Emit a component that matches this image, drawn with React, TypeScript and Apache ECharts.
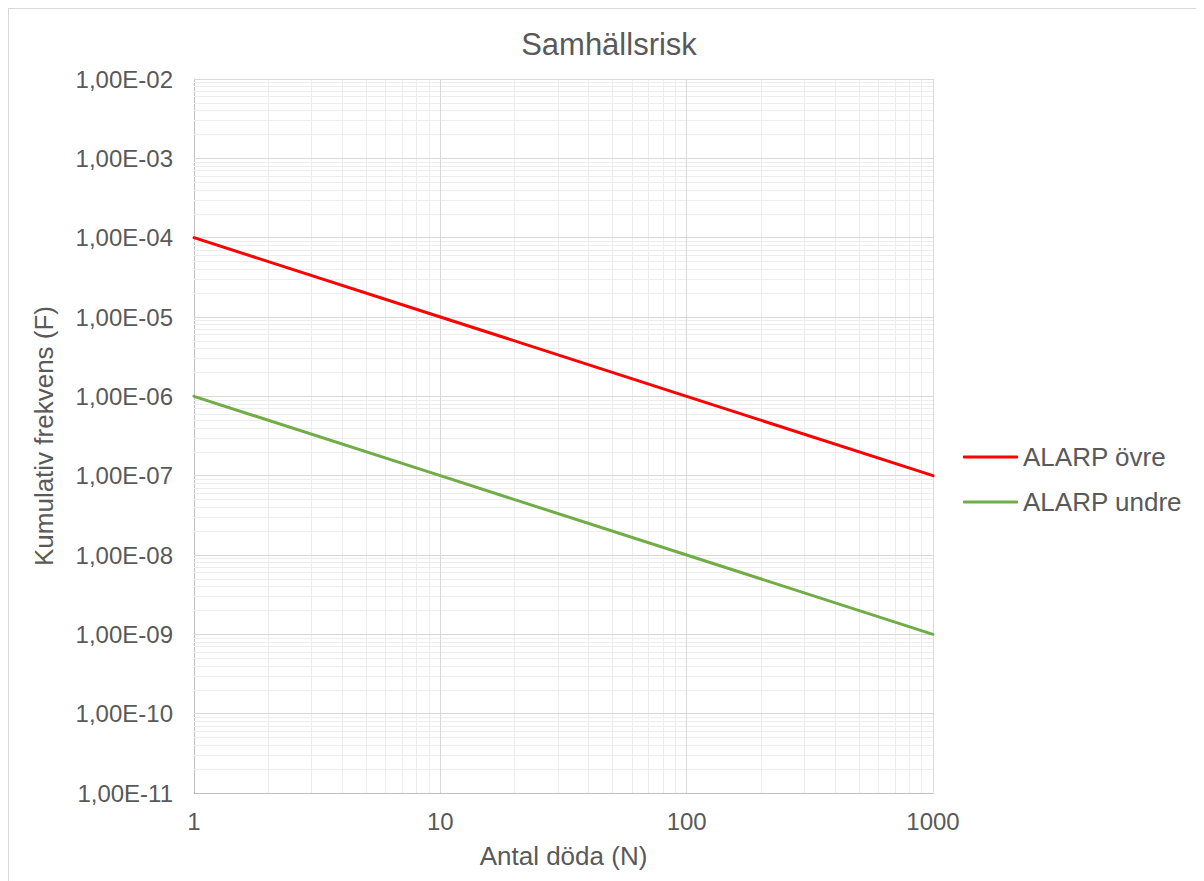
import React, { useEffect, useRef } from "react";
import * as echarts from "echarts";

const title = "Samhällsrisk";
const xAxisName = "Antal döda (N)";
const yAxisName = "Kumulativ frekvens (F)";
const seriesNames = ["ALARP övre", "ALARP undre"];
const xValues = [1, 10, 100, 1000];
const upperValues = [1e-4, 1e-5, 1e-6, 1e-7];
const lowerValues = [1e-6, 1e-7, 1e-8, 1e-9];
const xDecades = [0, 1, 2]; // 10^0 .. 10^3
const yDecades = [-11, -10, -9, -8, -7, -6, -5, -4, -3]; // 10^-11 .. 10^-2
const seriesColors = ["#ff0000", "#70ad47"];

const textColor = "#595959";
const font = "'Liberation Sans', Arial, sans-serif";

function fmtY(v: number): string {
  const e = Math.round(Math.log10(v));
  const a = Math.abs(e);
  return "1,00E" + (e < 0 ? "-" : "+") + (a < 10 ? "0" + a : String(a));
}

export default function App() {
  const ref = useRef<HTMLDivElement>(null);
  useEffect(() => {
    if (!ref.current) return;
    const chart = echarts.init(ref.current, undefined, { renderer: "svg" });

    const minor: any[] = [];
    const major: any[] = [];
    xDecades.forEach((d) => {
      for (let m = 2; m <= 9; m++) minor.push({ xAxis: m * Math.pow(10, d) });
      major.push({ xAxis: Math.pow(10, d + 1) });
    });
    yDecades.forEach((d) => {
      for (let m = 2; m <= 9; m++) minor.push({ yAxis: m * Math.pow(10, d) });
      major.push({ yAxis: Math.pow(10, d + 1) });
    });
    const minorStyle = { color: "#ededed", width: 1, type: "solid" };
    const majorStyle = { color: "#d9d9d9", width: 1, type: "solid" };
    const gridLines = [
      ...minor.map((m) => ({ ...m, lineStyle: minorStyle })),
      ...major.map((m) => ({ ...m, lineStyle: majorStyle })),
    ];

    chart.setOption({
      animation: false,
      backgroundColor: "#ffffff",
      title: {
        text: title,
        left: 600,
        top: 20,
        textAlign: "center",
        padding: 0,
        textStyle: { color: textColor, fontSize: 31, fontWeight: "normal", fontFamily: font },
      },
      legend: {
        orient: "vertical",
        left: 949,
        top: 428,
        itemGap: 15,
        itemWidth: 55,
        itemHeight: 3,
        icon: "roundRect",
        data: seriesNames,
        textStyle: { color: textColor, fontSize: 26, fontFamily: font, lineHeight: 30 },
      },
      grid: { left: 185, top: 70, width: 739, height: 714, containLabel: false },
      xAxis: {
        type: "log",
        logBase: 10,
        min: 1,
        max: 1000,
        name: xAxisName,
        nameLocation: "middle",
        nameGap: 50,
        nameTextStyle: { color: textColor, fontSize: 26, fontFamily: font },
        axisLine: { show: true, lineStyle: { color: "#bfbfbf", width: 1 } },
        axisTick: { show: false },
        splitLine: { show: false },
        axisLabel: {
          color: textColor,
          fontSize: 24,
          fontFamily: font,
          margin: 16,
          formatter: (v: number) => String(Math.round(v)),
        },
      },
      yAxis: {
        type: "log",
        logBase: 10,
        min: 1e-11,
        max: 1e-2,
        splitNumber: 9,
        name: yAxisName,
        nameLocation: "middle",
        nameGap: 137,
        nameRotate: 90,
        nameTextStyle: { color: textColor, fontSize: 26, fontFamily: font },
        axisLine: { show: true, lineStyle: { color: "#bfbfbf", width: 1 } },
        axisTick: { show: false },
        splitLine: { show: false },
        axisLabel: {
          color: textColor,
          fontSize: 24,
          fontFamily: font,
          margin: 21,
          formatter: (v: number) => fmtY(v),
        },
      },
      series: [
        {
          name: "__grid",
          type: "line",
          data: [],
          silent: true,
          z: 1,
          markLine: {
            silent: true,
            symbol: ["none", "none"],
            precision: 20,
            label: { show: false },
            z: 1,
            data: gridLines,
          },
        },
        {
          name: seriesNames[0],
          type: "line",
          z: 10,
          symbol: "none",
          data: xValues.map((x, i) => [x, upperValues[i]]),
          lineStyle: { color: seriesColors[0], width: 3, cap: "round" },
          itemStyle: { color: seriesColors[0] },
        },
        {
          name: seriesNames[1],
          type: "line",
          z: 10,
          symbol: "none",
          data: xValues.map((x, i) => [x, lowerValues[i]]),
          lineStyle: { color: seriesColors[1], width: 3, cap: "round" },
          itemStyle: { color: seriesColors[1] },
        },
      ],
    });
    return () => chart.dispose();
  }, []);

  return (
    <div
      style={{
        width: 1196,
        height: 873,
        borderLeft: "1px solid #d9d9d9",
        borderTop: "1px solid #d9d9d9",
        boxSizing: "border-box",
        overflow: "hidden",
        background: "#fff",
      }}
    >
      <div ref={ref} style={{ width: 1195, height: 872 }} />
    </div>
  );
}
